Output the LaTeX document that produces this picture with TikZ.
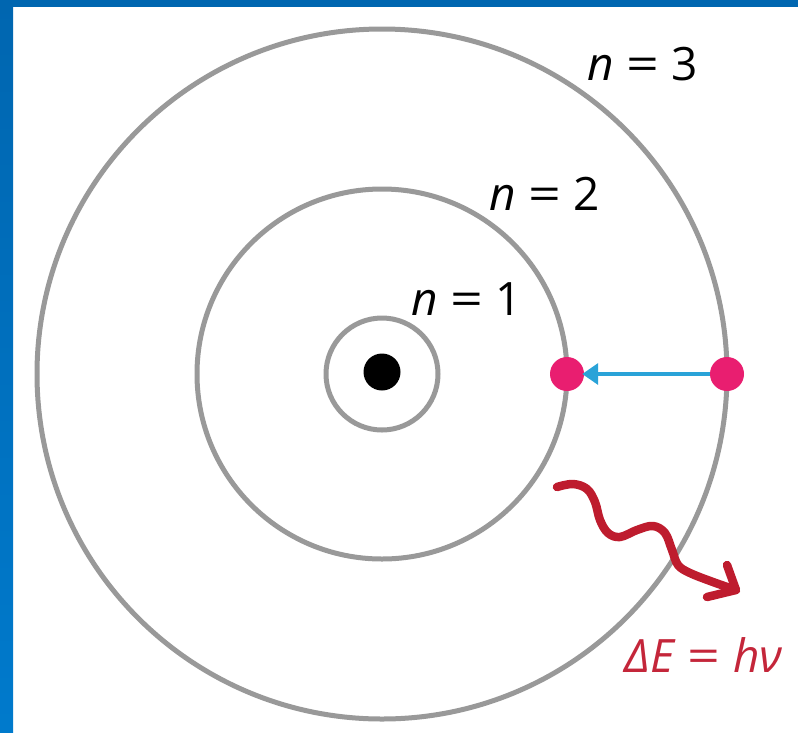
\documentclass[tikz,border=0pt]{standalone}
\usepackage{graphicx}
\usepackage{fontspec}
\setmainfont{Open Sans}
\usetikzlibrary{arrows.meta}
\definecolor{orbitgray}{RGB}{153,153,153}
\definecolor{bordertop}{RGB}{0,102,176}
\definecolor{borderbot}{RGB}{0,122,204}
\definecolor{dotpink}{RGB}{233,30,112}
\definecolor{arrowblue}{RGB}{42,163,216}
\definecolor{photonred}{RGB}{190,28,46}
\definecolor{labelred}{RGB}{196,38,58}
\newcommand{\eqsp}{\hspace{0.27em}\scalebox{1.25}[1]{=}\hspace{0.27em}}
\tikzset{
  orbit/.style={draw=orbitgray, line width=5pt},
  edot/.style={circle, fill=dotpink, minimum size=34pt, inner sep=0pt},
  nucleus/.style={circle, fill=black, minimum size=37pt, inner sep=0pt},
  jump/.style={draw=arrowblue, line width=3.5pt, -{Triangle[length=16pt,width=21pt]}, shorten >=-2pt},
  photon/.style={draw=photonred, line width=8.5pt, line cap=round, line join=round},
  lbl/.style={anchor=base west, inner sep=0pt, font=\fontsize{46}{50}\selectfont, text=black},
}
\begin{document}
\begin{tikzpicture}[x=1pt,y=-1pt]
\useasboundingbox (0,0) rectangle (798,732);
\fill[white] (0,0) rectangle (798,732);
\shade[top color=bordertop, bottom color=borderbot] (0,0) rectangle (13,732);
\fill[bordertop] (0,0) rectangle (798,7);
% orbits
\coordinate (c) at (382,374);
\draw[orbit] (c) circle[radius=345];
\draw[orbit] (c) circle[radius=185];
\draw[orbit] (c) circle[radius=56];
\node[nucleus] (nuc) at (382,372) {};
% electrons
\node[edot] (e2) at (567,374) {};
\node[edot] (e3) at (727,374) {};
\draw[jump] (e3) -- (e2);
% photon
\coordinate (ps) at (557,487);
\coordinate (pt) at (736,590);
\draw[photon] plot[smooth, tension=0.6] coordinates {(557,487) (573,484) (587,489) (595,502) (600,520) (608,533) (620,537) (637,530) (653,526) (665,533) (672,550) (678,565) (690,573) (713,582) (736,590)};
\coordinate (pa1) at (727,565);
\coordinate (pa2) at (707,597);
\draw[photon] (pa1) -- (pt) -- (pa2);
% labels
\node[lbl] (l1) at (411,315) {\textit{n}\eqsp 1};
\node[lbl] (l2) at (489,210) {\textit{n}\eqsp 2};
\node[lbl] (l3) at (587,80) {\textit{n}\eqsp 3};
\node[lbl, text=labelred] (le) at (624,672) {\textit{ΔE}\eqsp\textit{hν}};
\end{tikzpicture}
\end{document}
